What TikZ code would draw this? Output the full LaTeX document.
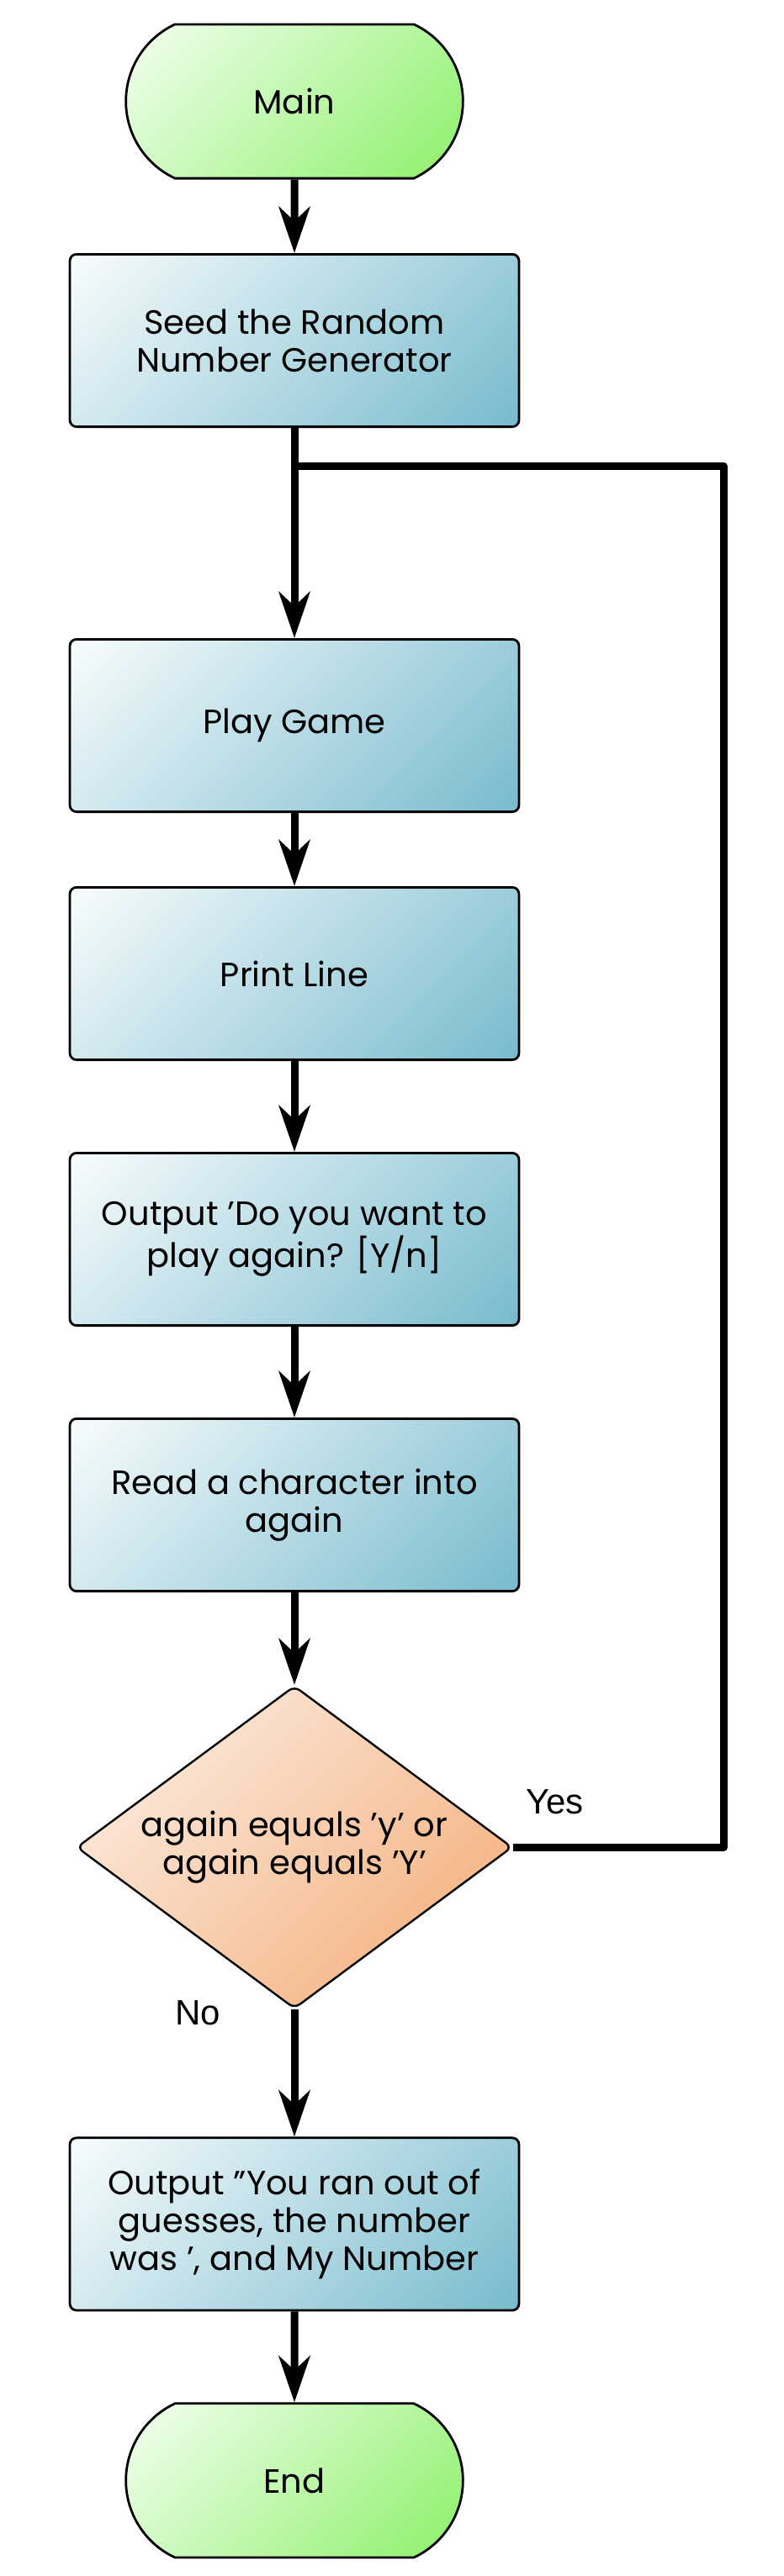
\documentclass[tikz,border=0pt]{standalone}
\usepackage{fontspec}
\setmainfont{Poppins}
\newfontfamily\labelfont{Liberation Sans}
\usetikzlibrary{positioning, arrows.meta, shapes.geometric, shapes.misc}

\definecolor{termgreen}{RGB}{140,240,104}
\definecolor{termlight}{RGB}{244,255,242}
\definecolor{procblue}{RGB}{122,188,206}
\definecolor{proclight}{RGB}{246,251,252}
\definecolor{decorange}{RGB}{243,170,114}
\definecolor{decolight}{RGB}{253,242,235}
\colorlet{shadehi}{white}
\colorlet{shadelo}{procblue}
\pgfdeclareverticalshading[shadehi,shadelo]{diag}{100bp}{color(0bp)=(shadelo); color(16bp)=(shadelo); color(84bp)=(shadehi); color(100bp)=(shadehi)}

\begin{document}
\begin{tikzpicture}[
  shadecols/.code 2 args={\colorlet{shadehi}{#1}\colorlet{shadelo}{#2}},
  boxtext/.style={font=\fontsize{20pt}{22.5pt}\selectfont, align=center},
  term/.style={boxtext, rounded rectangle, rounded rectangle arc length=130, draw, line width=1.4pt,
    minimum width=207pt, minimum height=91.6pt, shade, shading=diag, shading angle=45, shadecols={termlight}{termgreen}},
  proc/.style={boxtext, rectangle, rounded corners=4pt, draw, line width=1.4pt,
    minimum width=267pt, minimum height=102.6pt, shade, shading=diag, shading angle=45, shadecols={proclight}{procblue}},
  decide/.style={boxtext, diamond, aspect=1.35, rounded corners=4pt, draw, line width=1.2pt, inner sep=1pt,
    minimum width=259pt, minimum height=192pt, shade, shading=diag, shading angle=45, shadecols={decolight}{decorange}},
  flow/.style={line width=4.5pt, -{Stealth[length=27.5pt,width=18.5pt,inset=8.5pt]}},
  loopback/.style={line width=4.5pt, line join=round},
  lbl/.style={font=\labelfont\fontsize{21pt}{24pt}\selectfont}]
  \useasboundingbox (0,0) rectangle (466pt,-1532pt);

  \node[term] (main) at (175pt,-60.25pt) {Main};
  \node[proc, below=43.75pt of main] (seed) {Seed the Random\\Number Generator};
  \node[proc, below=125pt of seed] (play) {Play Game};
  \node[proc, below=43.5pt of play] (print) {Print Line};
  \node[proc, below=54pt of print] (ask) {Output 'Do you want to\\play again? [Y/n]};
  \node[proc, below=54pt of ask] (read) {Read a character into\\again};
  \node[decide, below=55pt of read] (again) {again equals 'y' or\\again equals 'Y'};
  \node[proc, below=75.5pt of again] (lost) {Output "You ran out of\\guesses, the number\\was ', and My Number};
  \node[term, below=54pt of lost] (end) {End};

  \coordinate[below=22.5pt of seed.south] (join);
  \coordinate[right=255pt of join] (turn);

  \node[lbl, anchor=base west] (yes) at ([xshift=4pt,yshift=20pt]again.east) {Yes};
  \node[lbl, anchor=base east] (no) at ([xshift=-40.5pt,yshift=-9pt]again.south) {No};

  \draw[flow] (main) -- (seed);
  \draw[flow] (seed) -- (play);
  \draw[flow] (play) -- (print);
  \draw[flow] (print) -- (ask);
  \draw[flow] (ask) -- (read);
  \draw[flow] (read) -- (again);
  \draw[flow] (again) -- (lost);
  \draw[flow] (lost) -- (end);
  \draw[loopback] (again.east) -| (turn) -- (join);
\end{tikzpicture}
\end{document}
